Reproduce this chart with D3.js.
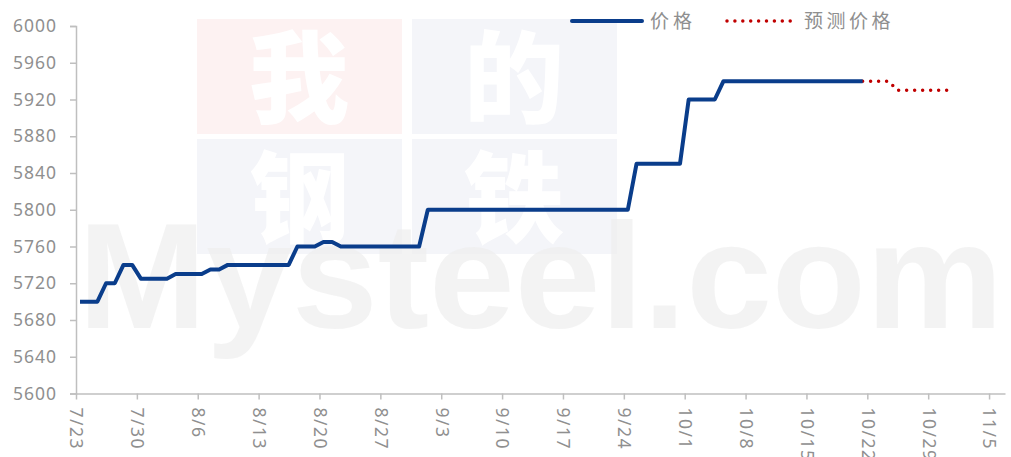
<!DOCTYPE html>
<html><head><meta charset="utf-8">
<script src="https://cdn.jsdelivr.net/npm/d3@7"></script>
<style>body{margin:0;background:#fff}svg{display:block}</style>
</head><body>
<svg id="chart" width="1011" height="457"></svg>
<script>
// ---- data ----
const year = 2024;
const priceDates = [
 "7/23","7/24","7/25","7/26","7/27","7/28","7/29","7/30","7/31",
 "8/1","8/2","8/3","8/4","8/5","8/6","8/7","8/8","8/9","8/10","8/11","8/12","8/13","8/14","8/15","8/16","8/17","8/18","8/19","8/20","8/21","8/22","8/23","8/24","8/25","8/26","8/27","8/28","8/29","8/30","8/31",
 "9/1","9/2","9/3","9/4","9/5","9/6","9/7","9/8","9/9","9/10","9/11","9/12","9/13","9/14","9/15","9/16","9/17","9/18","9/19","9/20","9/21","9/22","9/23","9/24","9/25","9/26","9/27","9/28","9/29","9/30",
 "10/1","10/2","10/3","10/4","10/5","10/6","10/7","10/8","10/9","10/10","10/11","10/12","10/13","10/14","10/15","10/16","10/17","10/18","10/19","10/20","10/21"
];
const priceValues = [
 5700,5700,5700,5720,5720,5740,5740,5725,5725,
 5725,5725,5730,5730,5730,5730,5735,5735,5740,5740,5740,5740,5740,5740,5740,5740,5760,5760,5760,5765,5765,5760,5760,5760,5760,5760,5760,5760,5760,5760,5760,
 5800,5800,5800,5800,5800,5800,5800,5800,5800,5800,5800,5800,5800,5800,5800,5800,5800,5800,5800,5800,5800,5800,5800,5800,5850,5850,5850,5850,5850,5850,
 5920,5920,5920,5920,5940,5940,5940,5940,5940,5940,5940,5940,5940,5940,5940,5940,5940,5940,5940,5940,5940
];
const forecastDates = ["10/21","10/22","10/23","10/24","10/25","10/26","10/27","10/28","10/29","10/30","10/31"];
const forecastValues = [5940,5940,5940,5940,5930,5930,5930,5930,5930,5930,5930];
const yTickValues = [5600,5640,5680,5720,5760,5800,5840,5880,5920,5960,6000];
const xTickLabels = ["7/23","7/30","8/6","8/13","8/20","8/27","9/3","9/10","9/17","9/24","10/1","10/8","10/15","10/22","10/29","11/5"];
const seriesNames = ["价格","预测价格"];
const watermarkChars = ["我","的","钢","铁"];
const watermarkText = "Mysteel.com";

// ---- setup ----
const parse = s => { const [m,d] = s.split("/").map(Number); return new Date(year, m-1, d); };
const mid = s => d3.timeHour.offset(parse(s), 11);
const svg = d3.select("#chart");
const pL = 76, pR = 1005, pT = 26, pB = 393.5;
const x0 = parse(xTickLabels[0]);
const x = d3.scaleTime().domain([x0, d3.timeHour.offset(x0, 106.85*24)]).range([pL, pR]);
const y = d3.scaleLinear().domain([5600, 6000]).range([pB, pT]);
const txtCol = "#8f8f8f", axCol = "#bfbfbf";
const font = "'Noto Sans', 'Liberation Sans', sans-serif";

// ---- watermark ----
const wm = svg.append("g");
const boxes = [[197,19,"#fdf2f2"],[412,19,"#f4f5f9"],[197,139,"#f4f5f9"],[412,139,"#f4f5f9"]];
boxes.forEach((b,i) => {
  wm.append("rect").attr("x", b[0]).attr("y", b[1]).attr("width", 205).attr("height", 115).attr("fill", b[2]);
  wm.append("text").attr("x", b[0]+102).attr("y", b[1]+96).attr("text-anchor","middle")
    .attr("font-family","'Noto Sans CJK SC'").attr("font-weight", 900).attr("font-size", 100)
    .attr("fill","#ffffff").text(watermarkChars[i]);
});
wm.append("text").attr("x", 78).attr("y", 328).attr("font-family","'Liberation Sans', Arial, sans-serif")
  .attr("font-weight","bold").attr("font-size", 150).attr("fill","#eeeeee").attr("fill-opacity",0.7)
  .attr("textLength", 925).attr("lengthAdjust","spacingAndGlyphs").text(watermarkText);

// ---- axes ----
const yAxis = d3.axisLeft(y).tickValues(yTickValues).tickSize(6).tickPadding(13).tickFormat(d3.format("d"));
const gy = svg.append("g").attr("transform", `translate(${pL},0)`).call(yAxis);
gy.select(".domain").attr("stroke", axCol).attr("stroke-width", 1.5);
gy.selectAll(".tick line").attr("stroke", axCol).attr("stroke-width", 1.5);
gy.selectAll("text").attr("fill", txtCol).attr("font-family", font).attr("font-size", 17.5).attr("letter-spacing", "1px");

const xAxis = d3.axisBottom(x).tickValues(xTickLabels.map(parse)).tickSize(6).tickSizeOuter(0).tickFormat((d,i) => xTickLabels[i]);
const gx = svg.append("g").attr("transform", `translate(0,${pB})`).call(xAxis);
gx.select(".domain").attr("stroke", axCol).attr("stroke-width", 1.5);
gx.selectAll(".tick line").attr("stroke", axCol).attr("stroke-width", 1.5);
gx.selectAll("text").attr("fill", txtCol).attr("font-family", font).attr("font-size", 17.5).attr("letter-spacing", "1.5px")
  .attr("text-anchor","start").attr("transform","translate(0,14) rotate(90)").attr("x",0).attr("y",0).attr("dy","0.35em");

// ---- lines ----
const line = d3.line().x(d => x(mid(d[0]))).y(d => y(d[1]));
svg.append("path").datum(forecastDates.map((d,i)=>[d, forecastValues[i]]))
  .attr("d", line).attr("fill","none").attr("stroke","#c00000").attr("stroke-width",3.5)
  .attr("stroke-linecap","round").attr("stroke-dasharray","0 8");
svg.append("path").datum(priceDates.map((d,i)=>[d, priceValues[i]]))
  .attr("d", line).attr("fill","none").attr("stroke","#0a3d8b").attr("stroke-width",4)
  .attr("stroke-linejoin","round").attr("stroke-linecap","butt");

// ---- legend ----
const lg = svg.append("g");
lg.append("line").attr("x1",572).attr("x2",642).attr("y1",21).attr("y2",21).attr("stroke","#0a3d8b").attr("stroke-width",4).attr("stroke-linecap","round");
lg.append("text").attr("x",650).attr("y",28).attr("font-family","'Noto Sans CJK SC'").attr("font-size",19).attr("letter-spacing","4px").attr("fill",txtCol).text(seriesNames[0]);
lg.append("line").attr("x1",727).attr("x2",791).attr("y1",21).attr("y2",21).attr("stroke","#c00000").attr("stroke-width",3.5).attr("stroke-linecap","round").attr("stroke-dasharray","0 7.9");
lg.append("text").attr("x",804).attr("y",28).attr("font-family","'Noto Sans CJK SC'").attr("font-size",19).attr("letter-spacing","3.5px").attr("fill",txtCol).text(seriesNames[1]);
</script>
</body></html>
